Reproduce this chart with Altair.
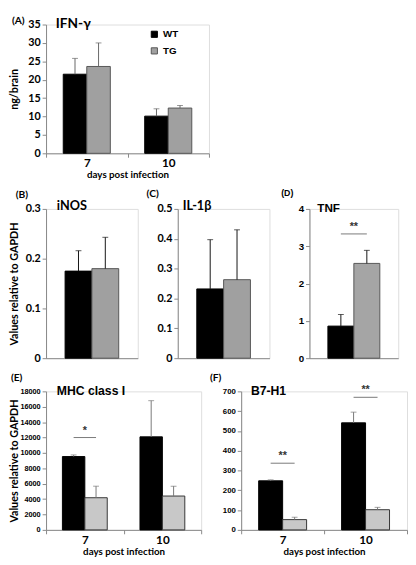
import altair as alt
import pandas as pd

# ---------------- data ----------------
days = ["7", "10"]
groups = ["WT", "TG"]

# grouped panels: order 7-WT, 7-TG, 10-WT, 10-TG
ifn_mean = [21.5, 23.6, 10.1, 12.3]
ifn_err = [4.3, 6.4, 2.0, 0.7]
mhc_mean = [9530, 4180, 12090, 4400]
mhc_err = [210, 1500, 4700, 1280]
b7_mean = [248, 52, 541, 102]
b7_err = [5, 12, 54, 12]

# single-timepoint panels: order WT, TG
inos_mean = [0.175, 0.180]
inos_err = [0.041, 0.063]
il1b_mean = [0.232, 0.263]
il1b_err = [0.165, 0.167]
tnf_mean = [0.86, 2.54]
tnf_err = [0.31, 0.35]

# significance annotations
tnf_sig_level = [3.33]
tnf_sig_text = ["**"]
mhc_sig_days = ["7"]
mhc_sig_level = [12000]
mhc_sig_text = ["*"]
b7_sig_days = ["7", "10"]
b7_sig_level = [337, 670]
b7_sig_text = ["**", "**"]

# axis ticks
ifn_ticks = [0, 5, 10, 15, 20, 25, 30, 35]
inos_ticks = [0, 0.1, 0.2, 0.3]
il1b_ticks = [0, 0.1, 0.2, 0.3, 0.4, 0.5]
tnf_ticks = [0, 1, 2, 3, 4]
mhc_ticks = [0, 2000, 4000, 6000, 8000, 10000, 12000, 14000, 16000, 18000]
b7_ticks = [0, 100, 200, 300, 400, 500, 600, 700]

letters = ["(A)", "(B)", "(C)", "(D)", "(E)", "(F)"]
names = ["IFN-\u03b3", "iNOS", "IL-1\u03b2", "TNF", "MHC class I", "B7-H1"]
y_title_a = "ng/brain"
y_title = "Values relative to GAPDH"
x_title = "days post infection"

CAL = "Lato"
ARI = "Liberation Sans"
AXC = "#888888"


def label_text(text, font, size, x, y):
    return alt.Chart(pd.DataFrame({"t": [text]})).mark_text(
        align="left", baseline="middle", font=font, fontSize=size,
        fontWeight="bold", color="black"
    ).encode(x=alt.value(x), y=alt.value(y), text="t:N")


def y_axis(ticks, title, tick_font, tick_size, fmt_expr=None):
    kw = dict(values=ticks, tickCount=len(ticks), grid=False, tickSize=4,
              labelPadding=2, domainColor=AXC, tickColor=AXC,
              labelColor="black", labelFont=tick_font,
              labelFontSize=tick_size, labelFontWeight="bold",
              labelOverlap=False, labelBound=False)
    if fmt_expr:
        kw["labelExpr"] = fmt_expr
    else:
        kw["format"] = "d"
    if title:
        kw.update(title=title, titleFont=CAL, titleFontSize=11,
                  titleFontWeight="bold", titleX=-32, titleBaseline="middle",
                  titleColor="black")
    else:
        kw["title"] = None
    return alt.Axis(**kw)


def grouped_panel(means, errs, width, height, ymax, ticks, ytitle, tick_font,
                  tick_size, tg_fill, tg_stroke, err_color, letter, name,
                  name_font, name_size, pos, sig=None, legend=False):
    df = pd.DataFrame({
        "day": [d for d in days for _ in groups],
        "group": groups * len(days),
        "mean": means,
        "err": errs,
    })
    df["top"] = df["mean"] + df["err"]
    xs = alt.Scale(domain=days, paddingInner=0, paddingOuter=0)
    xaxis = alt.Axis(title=x_title, labelAngle=0, tickBand="extent",
                     tickSize=4, labelPadding=1, domainColor=AXC,
                     tickColor=AXC, labelFont=CAL, labelFontSize=12,
                     labelFontWeight="bold", labelColor="black",
                     titleFont=CAL, titleFontSize=10, titleFontWeight="bold",
                     titlePadding=1, titleColor="black")
    xo_scale = alt.Scale(domain=groups, paddingInner=0, paddingOuter=0.73)
    ys = alt.Scale(domain=[0, ymax], nice=False, zero=True)
    yax = y_axis(ticks, ytitle, tick_font, tick_size)

    def X():
        return alt.X("day:N", sort=days, scale=xs, axis=xaxis)

    def XO():
        return alt.XOffset("group:N", sort=groups, scale=xo_scale)

    def Y(field):
        return alt.Y(field, scale=ys, axis=yax)

    if legend:
        leg = alt.Legend(orient="none", legendX=106, legendY=5, title=None,
                         symbolType="square", symbolSize=40,
                         symbolStrokeColor="#555555", symbolStrokeWidth=1,
                         labelFont=ARI, labelFontSize=10,
                         labelFontWeight="bold", rowPadding=5, labelOffset=4,
                         padding=0)
    else:
        leg = None
    base = alt.Chart(df)
    bars = base.mark_bar(strokeWidth=1).encode(
        x=X(), xOffset=XO(), y=Y("mean:Q"),
        fill=alt.Fill("group:N", sort=groups,
                      scale=alt.Scale(domain=groups, range=["#000000", tg_fill]),
                      legend=leg),
        stroke=alt.Stroke("group:N", sort=groups,
                          scale=alt.Scale(domain=groups,
                                          range=["#000000", tg_stroke]),
                          legend=None),
    )
    errbar = base.mark_rule(color=err_color, strokeWidth=1).encode(
        x=X(), xOffset=XO(), y=Y("mean:Q"), y2="top:Q")
    cap = base.mark_tick(color=err_color, thickness=1, size=6).encode(
        x=X(), xOffset=XO(), y=Y("top:Q"))
    layers = [bars, errbar, cap]
    if sig:
        sdays, slev, stxt = sig
        sl = pd.DataFrame({
            "day": [d for d in sdays for _ in groups],
            "group": groups * len(sdays),
            "level": [l for l in slev for _ in groups],
        })
        st = pd.DataFrame({"day": sdays, "level": slev, "label": stxt})
        line = alt.Chart(sl).mark_line(color="#777777", strokeWidth=1).encode(
            x=X(), xOffset=XO(), y=Y("level:Q"), detail="day:N")
        txt = alt.Chart(st).mark_text(font=ARI, fontSize=11, fontWeight="bold",
                                      dy=-7, color="#333333").encode(
            x=X(), y=Y("level:Q"), text="label:N")
        layers += [line, txt]
    (lx, ly), (nx, ny) = pos
    layers += [label_text(letter, CAL, 10.5, lx, ly),
               label_text(name, name_font, name_size, nx, ny)]
    return alt.layer(*layers).properties(width=width, height=height)


def single_panel(means, errs, width, height, ymax, ticks, ytitle, tick_font,
                 tick_size, fmt_expr, tg_fill, tg_stroke, letter, name,
                 letter_font, letter_size, name_font, name_size, pos, sig=None):
    df = pd.DataFrame({"group": groups, "mean": means, "err": errs})
    df["top"] = df["mean"] + df["err"]
    xs = alt.Scale(domain=groups, paddingInner=0, paddingOuter=0.71)
    xaxis = alt.Axis(title=None, labels=False, ticks=False, domainColor=AXC)
    ys = alt.Scale(domain=[0, ymax], nice=False, zero=True)
    yax = y_axis(ticks, ytitle, tick_font, tick_size, fmt_expr)

    def X(**kw):
        return alt.X("group:N", sort=groups, scale=xs, axis=xaxis, **kw)

    def Y(field):
        return alt.Y(field, scale=ys, axis=yax)

    base = alt.Chart(df)
    bars = base.mark_bar(strokeWidth=1).encode(
        x=X(), y=Y("mean:Q"),
        fill=alt.Fill("group:N", sort=groups,
                      scale=alt.Scale(domain=groups, range=["#000000", tg_fill]),
                      legend=None),
        stroke=alt.Stroke("group:N", sort=groups,
                          scale=alt.Scale(domain=groups,
                                          range=["#000000", tg_stroke]),
                          legend=None),
    )
    errbar = base.mark_rule(color="#111111", strokeWidth=1).encode(
        x=X(), y=Y("mean:Q"), y2="top:Q")
    cap = base.mark_tick(color="#111111", thickness=1, size=6).encode(
        x=X(), y=Y("top:Q"))
    layers = [bars, errbar, cap]
    if sig:
        slev, stxt = sig
        sl = pd.DataFrame({"group": groups, "level": slev * len(groups)})
        st = pd.DataFrame({"group": [groups[1]], "level": slev, "label": stxt})
        line = alt.Chart(sl).mark_line(color="#777777", strokeWidth=1).encode(
            x=X(), y=Y("level:Q"))
        txt = alt.Chart(st).mark_text(font=ARI, fontSize=11, fontWeight="bold",
                                      dy=-7, color="#333333").encode(
            x=X(bandPosition=0), y=Y("level:Q"), text="label:N")
        layers += [line, txt]
    (lx, ly), (nx, ny) = pos
    layers += [label_text(letter, letter_font, letter_size, lx, ly),
               label_text(name, name_font, name_size, nx, ny)]
    return alt.layer(*layers).properties(width=width, height=height)


dec_expr = "datum.value == 0 ? '0' : format(datum.value, '.1f')"

pA = grouped_panel(ifn_mean, ifn_err, 167, 132, 35, ifn_ticks, y_title_a, CAL, 11,
                   "#a0a0a0", "#555555", "#666666", letters[0], names[0], CAL, 14,
                   ((-35, -4), (10, 0)), legend=True)

pB = single_panel(inos_mean, inos_err, 94, 153, 0.3, inos_ticks, y_title, CAL, 11,
                  dec_expr, "#a0a0a0", "#555555", letters[1], names[1], CAL, 10.5,
                  CAL, 13, ((-31, -14), (11, -3)))
pC = single_panel(il1b_mean, il1b_err, 94, 153, 0.5, il1b_ticks, None, CAL, 11,
                  dec_expr, "#a0a0a0", "#555555", letters[2], names[2], CAL, 10.5,
                  CAL, 13, ((-32, -15), (5, -3)))
pD = single_panel(tnf_mean, tnf_err, 91, 153, 4, tnf_ticks, None, ARI, 10,
                  None, "#a5a5a5", "#555555", letters[3], names[3], ARI, 9,
                  ARI, 12, ((-29, -16), (8, -1)),
                  sig=(tnf_sig_level, tnf_sig_text))

pE = grouped_panel(mhc_mean, mhc_err, 159, 142, 18000, mhc_ticks, y_title, ARI, 7.5,
                   "#c8c8c8", "#333333", "#777777", letters[4], names[4], ARI, 12.5,
                   ((-36, -14), (11, 0)),
                   sig=(mhc_sig_days, mhc_sig_level, mhc_sig_text))
pF = grouped_panel(b7_mean, b7_err, 170, 142, 700, b7_ticks, None, ARI, 8,
                   "#c8c8c8", "#333333", "#777777", letters[5], names[5], ARI, 12.5,
                   ((-32, -14), (10, 0)),
                   sig=(b7_sig_days, b7_sig_level, b7_sig_text))

row2 = alt.hconcat(pB, pC, pD, spacing=41, bounds="flush").resolve_scale(
    fill="independent", stroke="independent")
row3 = alt.hconcat(pE, pF, spacing=41, bounds="flush").resolve_scale(
    xOffset="independent", fill="independent", stroke="independent")

chart = alt.vconcat(pA, row2, row3, spacing=8).resolve_scale(
    fill="independent", stroke="independent", xOffset="independent"
).properties(padding=0).configure_view(stroke=None).configure(font=CAL)

chart.save("out.html", embed_options={"renderer": "svg", "actions": False})
